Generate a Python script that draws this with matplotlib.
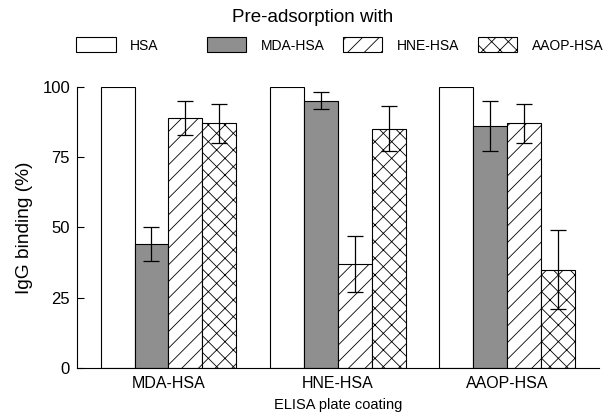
import matplotlib.pyplot as plt
import numpy as np

plt.rcParams['font.family'] = ['Liberation Sans', 'DejaVu Sans']
plt.rcParams['hatch.linewidth'] = 0.6

# ELISA plate coating (x groups)
coatings = ['MDA-HSA', 'HNE-HSA', 'AAOP-HSA']
# pre-adsorption antigens (series)
series = ['HSA', 'MDA-HSA', 'HNE-HSA', 'AAOP-HSA']

hsa = [100, 100, 100]
mda = [44, 95, 86]
hne = [89, 37, 87]
aaop = [87, 85, 35]

mda_err = [6, 3, 9]
hne_err = [6, 10, 7]
aaop_err = [7, 8, 14]

values = [hsa, mda, hne, aaop]
errors = [None, mda_err, hne_err, aaop_err]
fills = ['white', '#8f8f8f', 'white', 'white']
hatches = ['', '', '//', 'xx']

fig = plt.figure(figsize=(6.08, 4.16), dpi=100)
ax = fig.add_axes([0.1266, 0.1154, 0.858, 0.676])

x = np.arange(len(coatings))
w = 0.2
bars = []
for i, name in enumerate(series):
    pos = x + (i - 1.5) * w
    b = ax.bar(pos, values[i], width=w, color=fills[i], edgecolor='black',
               linewidth=0.8, hatch=hatches[i], label=name)
    bars.append(b)
    if errors[i] is not None:
        ax.errorbar(pos, values[i], yerr=errors[i], fmt='none', ecolor='black',
                    elinewidth=0.9, capsize=6, capthick=0.9)

ax.set_xlim(-0.54, 2.54)
ax.set_ylim(0, 100)
ax.set_yticks([0, 25, 50, 75, 100])
ax.tick_params(axis='y', labelsize=12, direction='in', length=5, width=0.8, pad=5)
ax.tick_params(axis='x', length=0, labelsize=11.5, pad=6)
ax.set_xticks(x)
ax.set_xticklabels(coatings)
ax.spines['top'].set_visible(False)
ax.spines['right'].set_visible(False)
ax.spines['left'].set_linewidth(0.8)
ax.spines['bottom'].set_linewidth(0.8)
ax.set_ylabel('IgG binding (%)', fontsize=13.8, labelpad=7)
ax.set_xlabel('ELISA plate coating', fontsize=10.5, labelpad=5)

fig.text(0.515, 0.959, 'Pre-adsorption with', ha='center', va='center', fontsize=13.5)

# one legend entry per series, spaced like the original key
key_x = [0.125, 0.340, 0.564, 0.786]
for b, name, kx in zip(bars, series, key_x):
    fig.legend(handles=[b], labels=[name], loc='center left',
               bbox_to_anchor=(kx, 0.892), frameon=False, fontsize=10,
               handlelength=2.85, handleheight=1.3, handletextpad=1.05,
               borderpad=0, borderaxespad=0)

fig.savefig('out.png', dpi=100)
